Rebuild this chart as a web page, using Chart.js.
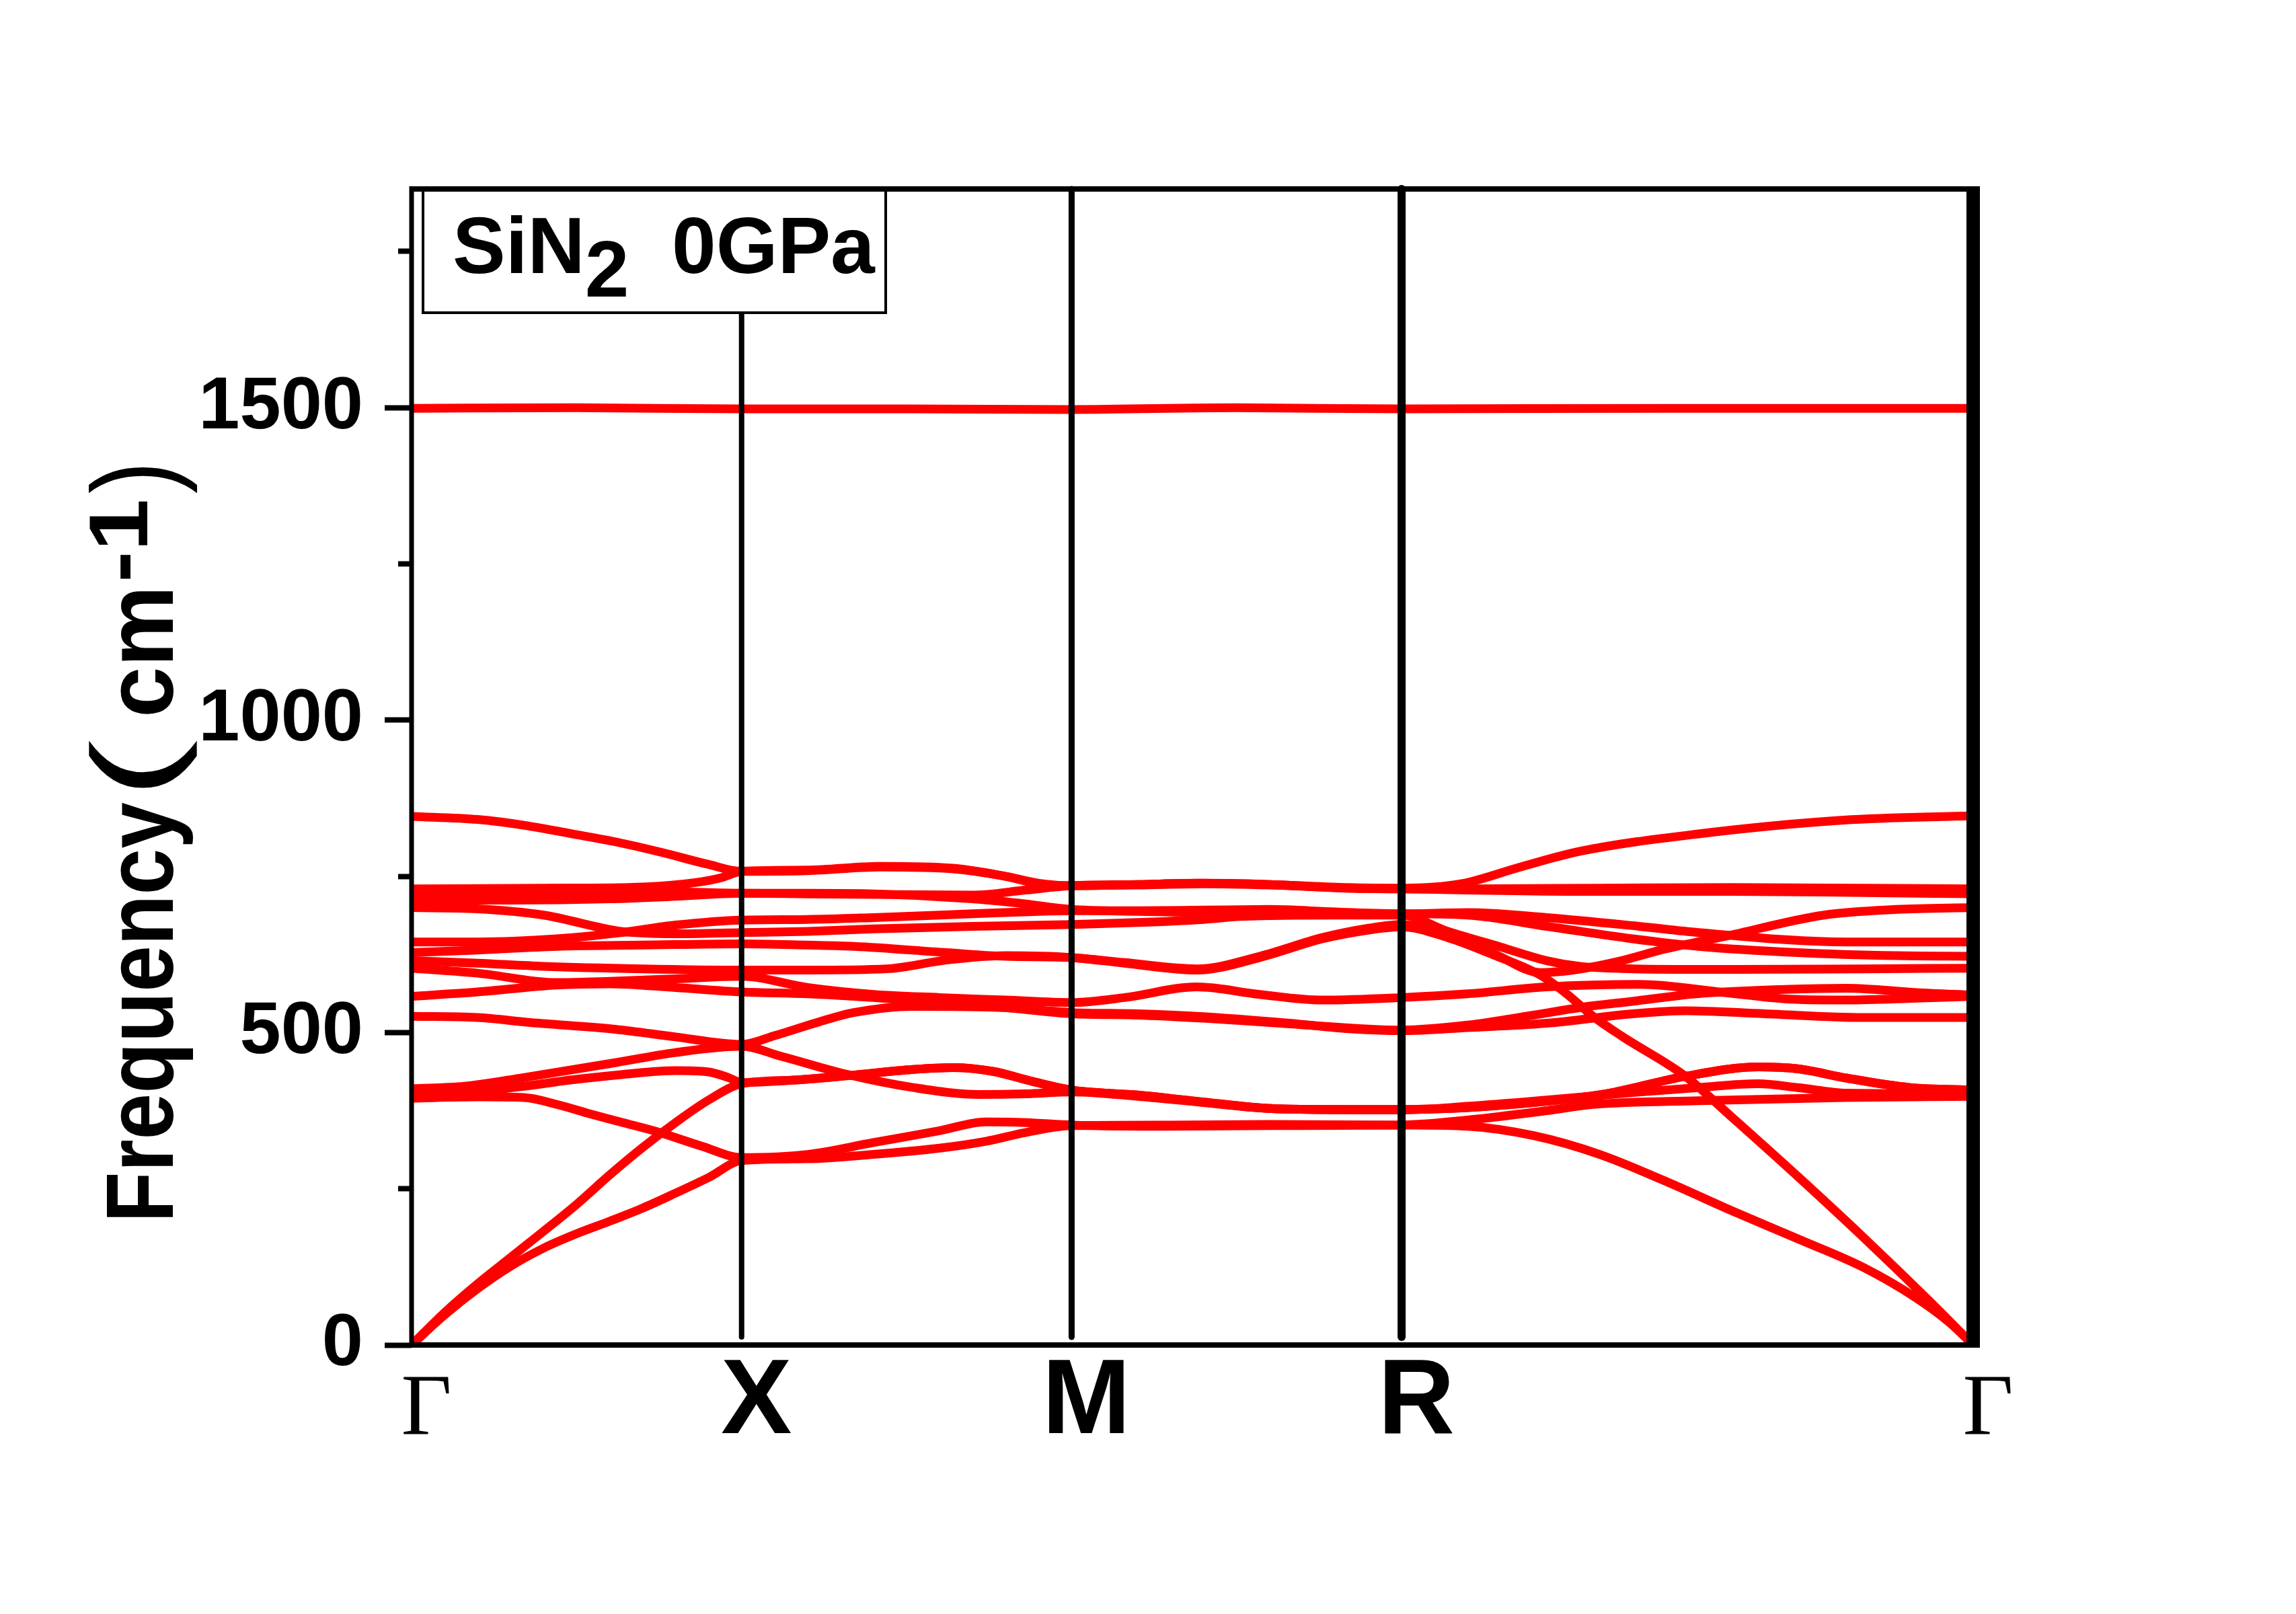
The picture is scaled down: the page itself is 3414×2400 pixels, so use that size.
<!DOCTYPE html>
<html>
<head>
<meta charset="utf-8">
<script src="https://cdn.jsdelivr.net/npm/chart.js@4.4.1/dist/chart.umd.min.js"></script>
<style>
  html, body { margin: 0; padding: 0; background: #ffffff; }
  canvas { display: block; }
</style>
</head>
<body>
<canvas id="c" width="3414" height="2400"></canvas>
<script>
// ---- high-symmetry path (distance along path) and labels ----
const kPath = [0, 0.5, 1.0, 1.5, 2.366];
const kLabels = ['Γ', 'X', 'M', 'R', 'Γ'];

// ---- y axis ticks ----
const yMajor = [0, 500, 1000, 1500];
const yMinor = [250, 750, 1250, 1750];

// ---- phonon branches: [k, frequency (cm-1)] ----
const bandTA = [[0,0],[0.05,48],[0.1,90],[0.15,126],[0.2,155],[0.25,178],[0.3,198],[0.35,219],[0.4,243],[0.45,268],[0.5,295],[0.6,298],[0.7,305],[0.8,315],[0.87,326],[0.93,340],[1.0,351],[1.15,352],[1.3,353],[1.5,352],[1.6,350],[1.7,335],[1.8,305],[1.9,262],[2.0,215],[2.1,170],[2.2,124],[2.28,75],[2.33,36],[2.366,0]];
const bandLA = [[0,0],[0.05,52],[0.1,98],[0.15,140],[0.2,182],[0.25,225],[0.3,272],[0.35,316],[0.4,356],[0.45,392],[0.5,418],[0.58,424],[0.66,431],[0.76,441],[0.82,444],[0.88,438],[0.94,422],[1.0,408],[1.1,400],[1.19,390],[1.31,378],[1.4,377],[1.5,377],[1.6,380],[1.72,390],[1.81,402],[1.93,430],[2.04,445],[2.1,442],[2.175,427],[2.27,412],[2.366,408]];
const bandB1 = [[0,395],[0.1,397],[0.17,396],[0.22,385],[0.27,370],[0.32,356],[0.37,342],[0.44,318],[0.5,300],[0.6,305],[0.7,324],[0.8,343],[0.87,357],[0.93,356],[1.0,352],[1.15,350],[1.3,351],[1.5,352],[1.6,360],[1.72,375],[1.79,385],[1.95,391],[2.17,396],[2.366,398]];
const bandB2 = [[0,400],[0.1,406],[0.17,414],[0.24,424],[0.32,433],[0.4,439],[0.45,437],[0.48,428],[0.5,420],[0.58,424],[0.66,431],[0.76,441],[0.82,444],[0.88,438],[0.94,422],[1.0,408],[1.1,400],[1.19,390],[1.31,378],[1.4,377],[1.5,377],[1.6,380],[1.72,390],[1.81,402],[1.93,430],[2.04,445],[2.1,442],[2.175,427],[2.27,412],[2.366,408]];
const bandB3 = [[0,410],[0.08,414],[0.17,428],[0.31,452],[0.4,468],[0.5,478],[0.56,462],[0.66,433],[0.76,412],[0.86,401],[0.93,402],[1.0,405],[1.1,398],[1.19,389],[1.31,378],[1.5,376],[1.6,382],[1.72,392],[1.85,404],[1.95,412],[2.04,418],[2.1,412],[2.175,403],[2.366,402]];
const band07 = [[0,526],[0.1,524],[0.18,516],[0.31,505],[0.4,493],[0.5,481],[0.55,495],[0.62,518],[0.67,532],[0.76,542],[0.9,540],[1.0,532],[1.1,530],[1.19,526],[1.33,515],[1.42,506],[1.5,503],[1.6,508],[1.72,515],[1.85,530],[1.93,535],[2.05,530],[2.2,524],[2.366,524]];
const band08 = [[0,558],[0.1,565],[0.22,576],[0.3,578],[0.4,572],[0.5,565],[0.6,562],[0.7,556],[0.8,548],[0.9,540],[1.0,530],[1.1,528],[1.2,523],[1.33,514],[1.5,504],[1.6,512],[1.7,528],[1.77,540],[1.85,550],[1.947,562],[2.08,569],[2.175,571],[2.28,564],[2.366,560]];
const band09 = [[0,603],[0.1,595],[0.22,580],[0.3,582],[0.4,586],[0.5,590],[0.6,572],[0.7,561],[0.8,556],[0.9,552],[1.0,548],[1.08,556],[1.19,573],[1.285,561],[1.38,552],[1.5,556],[1.6,562],[1.72,573],[1.86,577],[1.99,564],[2.08,554],[2.175,552],[2.28,555],[2.366,558]];
const band10 = [[0,615],[0.1,611],[0.2,606],[0.35,602],[0.5,600],[0.6,600],[0.72,602],[0.81,616],[0.9,623],[1.0,620],[1.08,611],[1.19,600],[1.285,620],[1.38,650],[1.45,664],[1.5,669],[1.57,652],[1.64,624],[1.71,592],[1.75,562],[1.79,526],[1.834,494],[1.93,430],[2.0,365],[2.1,270],[2.2,172],[2.3,70],[2.366,0]];
const band11 = [[0,628],[0.1,632],[0.22,638],[0.35,640],[0.5,642],[0.6,640],[0.67,638],[0.81,628],[0.9,622],[1.0,620],[1.08,612],[1.19,602],[1.285,622],[1.38,652],[1.45,667],[1.5,673],[1.57,655],[1.64,626],[1.71,596],[1.76,600],[1.825,613],[1.9,634],[1.99,654],[2.14,688],[2.25,697],[2.366,700]];
const band12 = [[0,645],[0.1,645],[0.22,650],[0.317,660],[0.4,672],[0.5,680],[0.6,681],[0.7,684],[0.85,690],[0.95,694],[1.0,695],[1.1,695],[1.2,696],[1.3,697],[1.4,693],[1.5,690],[1.6,692],[1.72,684],[1.86,670],[1.95,660],[2.175,645],[2.366,645]];
const band13 = [[0,700],[0.1,698],[0.2,688],[0.317,662],[0.4,658],[0.5,660],[0.6,662],[0.7,666],[0.85,670],[1.0,673],[1.1,676],[1.2,681],[1.26,686],[1.4,688],[1.5,688],[1.57,662],[1.65,637],[1.72,615],[1.77,606],[1.85,602],[2.0,601],[2.2,602],[2.366,603]];
const band14 = [[0,712],[0.15,712],[0.3,714],[0.4,718],[0.5,723],[0.6,723],[0.7,722],[0.85,714],[0.92,707],[1.0,697],[1.1,694],[1.2,692],[1.35,690],[1.5,690],[1.6,688],[1.72,670],[1.85,650],[1.95,638],[2.1,628],[2.25,623],[2.366,622]];
const band15 = [[0,722],[0.2,725],[0.35,726],[0.5,723],[0.6,722],[0.7,721],[0.85,720],[0.93,728],[1.0,735],[1.1,737],[1.19,739],[1.3,737],[1.42,731],[1.5,730],[1.6,728],[1.75,726],[2.0,726],[2.2,724],[2.366,722]];
const band16 = [[0,730],[0.2,731],[0.35,733],[0.43,740],[0.47,748],[0.5,758],[0.6,760],[0.71,766],[0.82,763],[0.9,750],[0.95,739],[1.0,735],[1.1,737],[1.2,739],[1.3,737],[1.42,732],[1.5,731],[1.59,738],[1.68,765],[1.77,790],[1.95,818],[2.17,840],[2.366,847]];
const band17 = [[0,846],[0.1,841],[0.175,831],[0.243,818],[0.31,805],[0.38,788],[0.45,769],[0.5,758],[0.6,759],[0.71,765],[0.82,762],[0.9,750],[0.95,738],[1.0,735],[1.1,736],[1.2,738],[1.3,736],[1.42,731],[1.5,730],[1.6,730],[1.8,731],[2.0,732],[2.2,731],[2.366,730]];
const band18 = [[0,1499],[0.25,1500],[0.5,1498],[0.75,1498],[1.0,1497],[1.25,1500],[1.5,1498],[1.9,1499],[2.366,1499]];

const bands = [bandTA, bandLA, bandB1, bandB2, bandB3, band07, band08, band09, band10,
               band11, band12, band13, band14, band15, band16, band17, band18];

const SANS = "'Liberation Sans', Arial, Helvetica, sans-serif";
const SERIF = "'Liberation Serif', 'Times New Roman', Times, serif";

const datasets = bands.map((b, i) => ({
  label: 'branch ' + (i + 1),
  data: b.map(p => ({ x: p[0], y: p[1] })),
  borderColor: '#ff0000',
  borderWidth: 13,
  pointRadius: 0,
  fill: false,
  cubicInterpolationMode: 'monotone',
  yAxisID: 'y',
  xAxisID: 'x'
}));

const decorPlugin = {
  id: 'decor',
  beforeDraw(chart) {
    const ctx = chart.ctx;
    ctx.save();
    ctx.fillStyle = '#ffffff';
    ctx.fillRect(0, 0, chart.width, chart.height);
    ctx.restore();
  },
  afterDatasetsDraw(chart) {
    const ctx = chart.ctx;
    const ca = chart.chartArea;
    const xs = chart.scales.x;
    ctx.save();
    // vertical high-symmetry lines
    ctx.strokeStyle = '#000';
    ctx.lineCap = 'round';
    const vw = [8, 9, 12];
    for (let i = 1; i <= 3; i++) {
      const px = xs.getPixelForValue(kPath[i]);
      ctx.lineWidth = vw[i - 1];
      ctx.beginPath();
      ctx.moveTo(px, ca.top);
      ctx.lineTo(px, ca.bottom - 12);
      ctx.stroke();
    }
    // frame
    ctx.lineCap = 'butt';
    ctx.lineWidth = 7;
    ctx.beginPath(); ctx.moveTo(ca.left, ca.top - 4); ctx.lineTo(ca.left, ca.bottom + 4); ctx.stroke();
    ctx.lineWidth = 8;
    ctx.beginPath(); ctx.moveTo(ca.left - 3, ca.top); ctx.lineTo(ca.right + 10, ca.top); ctx.stroke();
    ctx.beginPath(); ctx.moveTo(ca.left - 3, ca.bottom); ctx.lineTo(ca.right + 10, ca.bottom); ctx.stroke();
    ctx.lineWidth = 20;
    ctx.beginPath(); ctx.moveTo(ca.right, ca.top - 4); ctx.lineTo(ca.right, ca.bottom + 4); ctx.stroke();

    // inset label box
    ctx.fillStyle = '#ffffff';
    ctx.fillRect(629, 283, 688, 182);
    ctx.lineWidth = 4;
    ctx.strokeRect(629, 283, 688, 182);
    ctx.fillStyle = '#000';
    ctx.textBaseline = 'alphabetic';
    ctx.textAlign = 'left';
    ctx.font = 'bold 118px ' + SANS;
    ctx.fillText('SiN', 673, 406);
    const w1 = ctx.measureText('SiN').width;
    ctx.fillText('2', 673 + w1, 441);
    ctx.fillText('0GPa', 999, 406);

    // y axis title (rotated)
    const pieces = [
      { t: 'Frequency', f: 'bold 142px ' + SANS, y0: 1818, y1: 1193, r: 0 },
      { t: '(', f: 'normal 172px ' + SANS, y0: 1188, y1: 1100, r: 0 },
      { t: 'cm', f: 'bold 142px ' + SANS, y0: 1067, y1: 871, r: 0 },
      { t: '-1', f: 'bold 124px ' + SANS, y0: 866, y1: 742, r: 38 },
      { t: ')', f: 'normal 172px ' + SANS, y0: 734, y1: 686, r: 0 }
    ];
    ctx.translate(257, 0);
    ctx.rotate(-Math.PI / 2);
    pieces.forEach(p => {
      ctx.font = p.f;
      const w = ctx.measureText(p.t).width;
      const s = (p.y0 - p.y1) / w;
      ctx.save();
      ctx.translate(-p.y0, -p.r);
      ctx.scale(s, 1);
      ctx.fillText(p.t, 0, 0);
      ctx.restore();
    });
    ctx.restore();
  }
};

new Chart(document.getElementById('c'), {
  type: 'line',
  data: { datasets },
  plugins: [decorPlugin],
  options: {
    responsive: false,
    animation: false,
    devicePixelRatio: 1,
    layout: { padding: { left: 0, right: 480, top: 281, bottom: 0 } },
    plugins: { legend: { display: false }, tooltip: { enabled: false }, title: { display: false } },
    scales: {
      x: {
        type: 'linear',
        position: 'bottom',
        min: kPath[0],
        max: kPath[kPath.length - 1],
        afterBuildTicks: s => { s.ticks = kPath.map(v => ({ value: v })); },
        afterFit: s => { s.height = 400; },
        grid: { display: false },
        border: { display: false },
        ticks: {
          autoSkip: false,
          maxRotation: 0,
          minRotation: 0,
          padding: 0,
          labelOffset: 22,
          color: '#000',
          callback: (v, i) => kLabels[i],
          font: ctx => (ctx.index === 0 || ctx.index === kPath.length - 1)
            ? { family: SERIF, size: 130, weight: 'normal', lineHeight: 1.385 }
            : { family: SANS, size: 158, weight: 'bold', lineHeight: 1.0 }
        }
      },
      y: {
        type: 'linear',
        position: 'left',
        weight: 1,
        min: 0,
        max: 1850,
        afterBuildTicks: s => { s.ticks = yMajor.map(v => ({ value: v })); },
        afterFit: s => { s.width = 612; },
        grid: { display: true, drawOnChartArea: false, drawTicks: true, tickLength: 40, tickWidth: 8, tickColor: '#000' },
        border: { display: false },
        title: { display: false },
        ticks: {
          padding: 32,
          color: '#000',
          callback: v => String(v),
          font: { family: SANS, size: 110, weight: 'bold' }
        }
      },
      y2: {
        type: 'linear',
        position: 'left',
        weight: 0,
        min: 0,
        max: 1850,
        afterBuildTicks: s => { s.ticks = yMinor.map(v => ({ value: v })); },
        afterFit: s => { s.width = 0; },
        grid: { display: true, drawOnChartArea: false, drawTicks: true, tickLength: 20, tickWidth: 8, tickColor: '#000' },
        border: { display: false },
        ticks: { display: false }
      }
    }
  }
});
</script>
</body>
</html>
